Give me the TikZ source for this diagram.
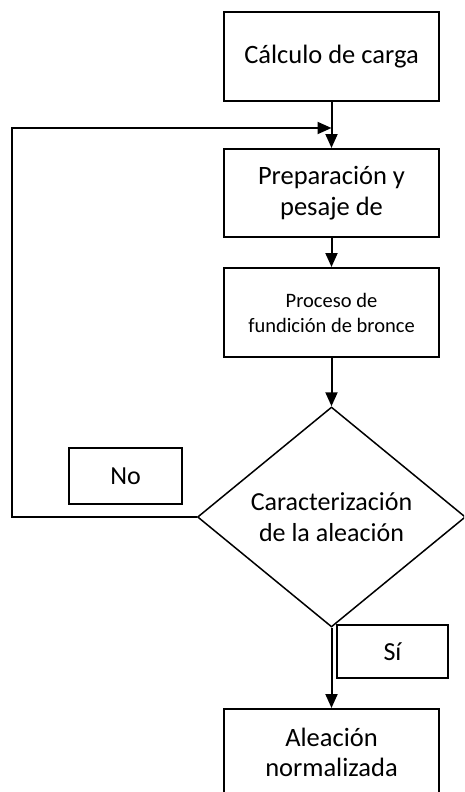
\documentclass[tikz,border=0pt]{standalone}
\usepackage{fontspec}
\setmainfont{Carlito}
\usetikzlibrary{
  arrows.meta,
  shapes.geometric
}
\tikzset{
  caja/.style={
    draw,
    line width=2pt,
    align=center,
    inner sep=0pt,
    minimum width=215pt,
    minimum height=89pt,
    font=\fontsize{26.5}{30.5}\selectfont
  },
  etiqueta/.style={
    draw,
    line width=2pt,
    inner sep=0pt,
    font=\fontsize{26}{30.5}\selectfont
  },
  decision/.style={
    diamond,
    draw,
    line width=1.5pt,
    aspect=1.2,
    inner sep=0pt,
    align=center,
    minimum width=268pt,
    minimum height=220pt,
    font=\fontsize{26}{30.5}\selectfont
  },
  flecha/.style={
    line width=2pt,
    -{Triangle[width=12pt,length=14pt]}
  }
}
\begin{document}
\begin{tikzpicture}[x=1pt,y=-1pt]
      \useasboundingbox (0,0) rectangle (464,792);
      \clip (0,0) rectangle (464,792);
      \node[caja] (calculo) at (331.5,56.5) {Cálculo de carga};
      \node[caja, minimum height=88pt] (preparacion) at (331.5,193) {Preparación y\\pesaje de};
      \node[caja, font=\fontsize{20.5}{25}\selectfont] (fundicion) at (331.5,312.5) {Proceso de\\fundición de bronce};
      \node[decision] (caracterizacion) at (331.5,517) {\\[-12pt]Caracterización\\de la aleación};
      \node[caja, minimum height=87pt] (normalizada) at (331.5,752.5) {Aleación\\normalizada};
      \node[etiqueta, minimum width=113pt, minimum height=56pt] (no) at (125.5,476) {No};
      \node[etiqueta, minimum width=111pt, minimum height=53pt] (si) at (392.5,651.5) {Sí};
      \coordinate (union) at (331.5,128);
      \coordinate (esquina) at (12,517);
      \draw[flecha] (calculo.south) -- (preparacion.north);
      \draw[flecha] (preparacion.south) -- (fundicion.north);
      \draw[flecha] (fundicion.south) -- (caracterizacion.north);
      \draw[flecha] (caracterizacion.south) -- (normalizada.north);
      \draw[flecha] (caracterizacion.west) -- (esquina) |- (union);
\end{tikzpicture}
\end{document}
